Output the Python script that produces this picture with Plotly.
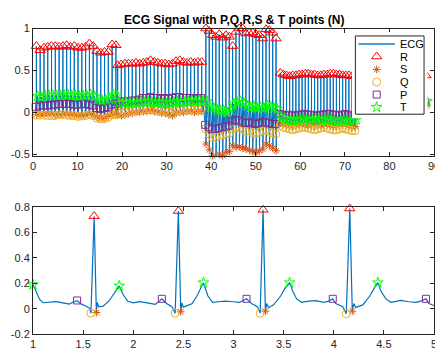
import plotly.graph_objects as go

# ---------------- data: top panel (per-beat fiducial points) ----------------
R_TIME = [0.76, 1.61, 2.46, 3.31, 4.16, 5.01, 5.86, 6.71, 7.56, 8.41, 9.26, 10.11, 10.96, 11.81,
          12.66, 13.51, 14.36, 15.21, 16.06, 16.91, 17.76, 18.61,
          19.0, 19.82, 20.64, 21.46, 22.28, 23.1, 23.92, 24.74, 25.56, 26.38, 27.2, 28.02, 28.84,
          29.66, 30.48, 31.3, 32.12, 32.94, 33.76, 34.58, 35.4, 36.22, 37.04, 37.86,
          38.8, 39.55, 40.3, 41.05, 41.8, 42.55, 43.3, 44.05, 44.8, 45.55, 46.3, 47.05, 47.8,
          48.55, 49.3, 50.05, 50.8, 51.55, 52.3, 53.05, 53.8, 54.55,
          55.5, 56.2, 56.9, 57.6, 58.3, 59.0, 59.7, 60.4, 61.1, 61.8, 62.5, 63.2, 63.9, 64.6,
          65.3, 66.0, 66.7, 67.4, 68.1, 68.8, 69.5, 70.2, 70.9, 71.6, 72.3,
          88.2]
R_TOP = [0.79, 0.74, 0.77, 0.78, 0.79, 0.79, 0.78, 0.79, 0.80, 0.78, 0.79, 0.77, 0.77, 0.78,
         0.82, 0.79, 0.73, 0.71, 0.72, 0.72, 0.81, 0.80,
         0.56, 0.57, 0.58, 0.58, 0.58, 0.59, 0.58, 0.59, 0.60, 0.62, 0.60, 0.59, 0.58, 0.58,
         0.57, 0.58, 0.61, 0.62, 0.60, 0.59, 0.60, 0.59, 0.60, 0.60,
         1.00, 0.97, 0.92, 0.90, 0.93, 0.89, 0.92, 0.90, 0.79, 0.96, 1.00, 1.00, 0.94, 0.95,
         0.95, 0.93, 0.92, 0.88, 0.99, 0.98, 0.95, 0.88,
         0.47, 0.45, 0.44, 0.43, 0.44, 0.44, 0.45, 0.45, 0.46, 0.46, 0.45, 0.45, 0.44, 0.44,
         0.45, 0.45, 0.46, 0.46, 0.45, 0.45, 0.44, 0.44, 0.44, 0.43, 0.43,
         0.44]
T_TOP = [0.19, 0.18, 0.205, 0.205, 0.205, 0.20, 0.20, 0.21, 0.21, 0.20, 0.20, 0.19, 0.20, 0.20,
         0.21, 0.19, 0.15, 0.14, 0.15, 0.16, 0.21, 0.20,
         0.11, 0.11, 0.12, 0.11, 0.12, 0.11, 0.12, 0.12, 0.13, 0.12, 0.11, 0.12, 0.11, 0.10,
         0.11, 0.12, 0.13, 0.12, 0.12, 0.13, 0.14, 0.13, 0.14, 0.13,
         0.13, 0.06, 0.05, 0.03, 0.02, 0.02, 0.00, 0.03, 0.10, 0.12, 0.13, 0.11, 0.08, 0.06,
         0.07, 0.05, 0.06, 0.05, 0.08, 0.07, 0.05, 0.04,
         -0.06, -0.08, -0.09, -0.10, -0.09, -0.10, -0.09, -0.08, -0.09, -0.10, -0.09, -0.08,
         -0.09, -0.10, -0.09, -0.08, -0.09, -0.10, -0.11, -0.10, -0.09, -0.10, -0.11, -0.10, -0.09,
         0.13]
P_TOP = [0.065, 0.08, 0.08, 0.08, 0.09, 0.09, 0.10, 0.10, 0.10, 0.10, 0.09, 0.09, 0.10, 0.10,
         0.09, 0.08, 0.05, 0.04, 0.05, 0.06, 0.09, 0.10,
         0.12, 0.13, 0.12, 0.13, 0.14, 0.14, 0.15, 0.17, 0.17, 0.18, 0.17, 0.17, 0.16, 0.17,
         0.16, 0.17, 0.18, 0.18, 0.17, 0.17, 0.17, 0.16, 0.17, 0.17,
         -0.15, -0.18, -0.20, -0.20, -0.19, -0.18, -0.17, -0.16, -0.10, -0.09, -0.10, -0.12,
         -0.13, -0.12, -0.13, -0.14, -0.13, -0.12, -0.12, -0.13, -0.14, -0.14,
         -0.02, -0.03, -0.04, -0.03, -0.04, -0.04, -0.03, -0.03, -0.02, -0.03, -0.03, -0.04,
         -0.04, -0.03, -0.03, -0.02, -0.02, -0.03, -0.03, -0.04, -0.03, -0.02, -0.03, -0.04, -0.04,
         0.12]
Q_TOP = [-0.035, -0.035, -0.035, -0.04, -0.04, -0.04, -0.03, -0.03, -0.035, -0.04, -0.04, -0.05,
         -0.045, -0.04, -0.03, -0.04, -0.07, -0.08, -0.08, -0.06, -0.03, -0.03,
         0.00, -0.01, 0.00, 0.01, 0.02, 0.03, 0.03, 0.04, 0.04, 0.05, 0.04, 0.03, 0.02, 0.02,
         0.00, -0.01, 0.02, 0.03, 0.03, 0.04, 0.04, 0.03, 0.04, 0.04,
         -0.20, -0.26, -0.30, -0.30, -0.28, -0.27, -0.26, -0.25, -0.20, -0.18, -0.19, -0.21,
         -0.23, -0.22, -0.24, -0.25, -0.24, -0.22, -0.21, -0.23, -0.25, -0.26,
         -0.16, -0.18, -0.19, -0.20, -0.21, -0.20, -0.19, -0.18, -0.18, -0.19, -0.20, -0.21,
         -0.20, -0.19, -0.18, -0.19, -0.20, -0.21, -0.21, -0.20, -0.19, -0.20, -0.21, -0.22, -0.22,
         0.08]
S_TOP = [-0.03, -0.025, -0.02, -0.02, -0.02, -0.03, -0.03, -0.02, -0.02, -0.03, -0.03, -0.04,
         -0.04, -0.03, -0.02, -0.03, -0.06, -0.07, -0.07, -0.05, -0.02, -0.02,
         -0.03, -0.04, -0.03, -0.02, -0.01, 0.00, 0.00, 0.01, 0.01, 0.02, 0.01, 0.00, -0.01, -0.01,
         -0.03, -0.04, -0.01, 0.00, 0.00, 0.01, 0.01, 0.00, 0.01, 0.01,
         -0.38, -0.45, -0.52, -0.53, -0.50, -0.52, -0.48, -0.47, -0.40, -0.42, -0.41, -0.43,
         -0.44, -0.45, -0.47, -0.48, -0.46, -0.44, -0.38, -0.40, -0.43, -0.46,
         -0.13, -0.14, -0.15, -0.16, -0.15, -0.15, -0.14, -0.14, -0.15, -0.16, -0.15, -0.14,
         -0.15, -0.16, -0.15, -0.14, -0.15, -0.16, -0.16, -0.15, -0.14, -0.15, -0.16, -0.17, -0.17,
         0.09]
# offsets (s) of the other fiducial points relative to the R peak
P_OFF, Q_OFF, S_OFF, T_OFF = -0.17, -0.035, 0.025, 0.25

# ---------------- data: bottom panel (zoomed ECG, 1-5 s) ----------------
BOT_T = [1.00, 1.03, 1.065, 1.10, 1.17, 1.23, 1.30, 1.36, 1.41, 1.44, 1.48, 1.53, 1.565, 1.578,
         1.61, 1.632, 1.64, 1.655, 1.70, 1.76, 1.81, 1.86, 1.90, 1.945, 2.00, 2.06, 2.14, 2.22,
         2.26, 2.285, 2.33, 2.39, 2.418, 2.45, 2.474, 2.485, 2.50, 2.585, 2.635, 2.70, 2.745,
         2.79, 2.85, 2.92, 3.00, 3.06, 3.10, 3.13, 3.18, 3.24, 3.266, 3.295, 3.318, 3.33, 3.35,
         3.40, 3.47, 3.52, 3.56, 3.59, 3.63, 3.68, 3.75, 3.82, 3.90, 3.95, 3.99, 4.02, 4.09,
         4.125, 4.16, 4.185, 4.20, 4.22, 4.29, 4.36, 4.41, 4.44, 4.47, 4.52, 4.57, 4.67, 4.75,
         4.82, 4.87, 4.92, 4.95, 4.98, 5.00]
BOT_V = [0.19, 0.14, 0.075, 0.047, 0.05, 0.056, 0.046, 0.036, 0.055, 0.063, 0.038, 0.02, 0.005,
         -0.035, 0.73, -0.03, 0.05, 0.015, 0.02, 0.063, 0.125, 0.18, 0.11, 0.058, 0.046, 0.056,
         0.046, 0.035, 0.06, 0.078, 0.043, 0.012, -0.035, 0.77, -0.025, 0.045, 0.012, 0.038, 0.10,
         0.205, 0.10, 0.05, 0.055, 0.06, 0.055, 0.05, 0.065, 0.078, 0.04, 0.015, -0.035, 0.78,
         -0.02, 0.04, 0.008, 0.03, 0.10, 0.17, 0.205, 0.14, 0.077, 0.05, 0.06, 0.063, 0.05, 0.06,
         0.078, 0.04, 0.015, -0.04, 0.79, -0.02, 0.04, 0.01, 0.03, 0.10, 0.17, 0.205, 0.14, 0.077,
         0.05, 0.065, 0.055, 0.05, 0.06, 0.078, 0.04, 0.03, 0.025]
R_BT = [1.61, 2.45, 3.295, 4.16]
R_BV = [0.73, 0.77, 0.78, 0.79]
S_BT = [1.632, 2.474, 3.318, 4.185]
S_BV = [-0.03, -0.025, -0.02, -0.02]
Q_BT = [1.578, 2.418, 3.266, 4.125]
Q_BV = [-0.035, -0.035, -0.035, -0.04]
P_BT = [1.44, 2.285, 3.13, 3.99, 4.92]
P_BV = [0.065, 0.078, 0.078, 0.078, 0.078]
T_BT = [1.00, 1.86, 2.70, 3.56, 4.44]
T_BV = [0.19, 0.18, 0.205, 0.205, 0.205]

TITLE = "ECG Signal with P,Q,R,S & T points (N)"
TOP_XTICKS = [0, 10, 20, 30, 40, 50, 60, 70, 80, 90]
TOP_YTICKS = [-0.5, 0, 0.5, 1]
BOT_XTICKS = [1, 1.5, 2, 2.5, 3, 3.5, 4, 4.5, 5]
BOT_YTICKS = [-0.2, 0, 0.2, 0.4, 0.6, 0.8]

n = len(R_TIME)
for arr in (R_TOP, T_TOP, P_TOP, Q_TOP, S_TOP):
    assert len(arr) == n, len(arr)
assert len(BOT_T) == len(BOT_V), (len(BOT_T), len(BOT_V))

# ---------------- styles ----------------
FONT = "Liberation Sans, Arial, Helvetica, sans-serif"
AX = "#262626"
C_ECG = "#0072BD"
STY = {
    "R": dict(symbol="triangle-up-open", color="#FF0000", size=9),
    "S": dict(symbol="asterisk-open", color="#D95319", size=6.5),
    "Q": dict(symbol="circle-open", color="#EDB120", size=8),
    "P": dict(symbol="square-open", color="#7E2F8E", size=7),
    "T": dict(symbol="star-open", color="#00FF00", size=8),
}

# figure is slightly wider than the 435 px window, so the right edge is cropped
W, H = 440, 356
ML, MR = 33, 4
PW = W - ML - MR


def px_x(p):
    return (p - ML) / PW


def px_y(p):
    return 1 - p / H


def mk(st):
    return dict(symbol=st["symbol"], color=st["color"], size=st["size"],
                line=dict(color=st["color"], width=1))


fig = go.Figure()

# top ECG line built from the fiducial points of each beat
xs, ys = [], []
for i in range(n):
    if i == n - 1:
        xs.append(None)
        ys.append(None)
    r = R_TIME[i]
    for off, v in ((P_OFF, P_TOP[i]), (Q_OFF, Q_TOP[i]), (0.0, R_TOP[i]),
                   (S_OFF, S_TOP[i]), (T_OFF, T_TOP[i])):
        xs.append(r + off)
        ys.append(v)
fig.add_trace(go.Scatter(x=xs, y=ys, mode="lines", line=dict(color=C_ECG, width=1),
                         xaxis="x", yaxis="y", showlegend=False))
top_pts = {
    "R": ([t for t in R_TIME], R_TOP),
    "S": ([t + S_OFF for t in R_TIME], S_TOP),
    "Q": ([t + Q_OFF for t in R_TIME], Q_TOP),
    "P": ([t + P_OFF for t in R_TIME], P_TOP),
    "T": ([t + T_OFF for t in R_TIME], T_TOP),
}
for k in ["R", "S", "Q", "P", "T"]:
    fig.add_trace(go.Scatter(x=top_pts[k][0], y=top_pts[k][1], mode="markers",
                             marker=mk(STY[k]), cliponaxis=False,
                             xaxis="x", yaxis="y", showlegend=False))

# bottom panel
fig.add_trace(go.Scatter(x=BOT_T, y=BOT_V, mode="lines", line=dict(color=C_ECG, width=1.2),
                         xaxis="x2", yaxis="y2", showlegend=False))
bot_pts = {"R": (R_BT, R_BV), "S": (S_BT, S_BV), "Q": (Q_BT, Q_BV),
           "P": (P_BT, P_BV), "T": (T_BT, T_BV)}
for k in ["R", "S", "Q", "P", "T"]:
    fig.add_trace(go.Scatter(x=bot_pts[k][0], y=bot_pts[k][1], mode="markers",
                             marker=mk(STY[k]), cliponaxis=False,
                             xaxis="x2", yaxis="y2", showlegend=False))

# ---------------- custom legend (own invisible axes) ----------------
fig.add_trace(go.Scatter(x=[0, 1, 1, 0, 0], y=[0, 0, 1, 1, 0], mode="lines", fill="toself",
                         fillcolor="white", line=dict(color=AX, width=1),
                         xaxis="x3", yaxis="y3", showlegend=False, hoverinfo="skip"))
LEG_NAMES = ["ECG", "R", "S", "Q", "P", "T"]
LEG_ROWS = [0.897, 0.737, 0.572, 0.411, 0.251, 0.090]
fig.add_trace(go.Scatter(x=[0.045, 0.575], y=[LEG_ROWS[0]] * 2, mode="lines",
                         line=dict(color="#4A9BD6", width=2),
                         xaxis="x3", yaxis="y3", showlegend=False, hoverinfo="skip"))
for name, yy in zip(LEG_NAMES[1:], LEG_ROWS[1:]):
    fig.add_trace(go.Scatter(x=[0.31], y=[yy], mode="markers", marker=mk(STY[name]),
                             cliponaxis=False, xaxis="x3", yaxis="y3",
                             showlegend=False, hoverinfo="skip"))
for name, yy in zip(LEG_NAMES, LEG_ROWS):
    fig.add_annotation(x=0.62, y=yy, xref="x3", yref="y3", text=name, showarrow=False,
                       xanchor="left", yanchor="middle",
                       font=dict(family=FONT, size=11, color="#000000"))

fig.add_annotation(x=px_x(234.5), y=px_y(14.5), xref="paper", yref="paper",
                   text="<b>%s</b>" % TITLE,
                   showarrow=False, xanchor="center", yanchor="middle",
                   font=dict(family=FONT, size=12, color="#000000"))

axis_common = dict(showline=True, linecolor=AX, linewidth=1, mirror="ticks",
                   ticks="inside", ticklen=4, tickcolor=AX, tickwidth=1,
                   showgrid=False, zeroline=False, ticklabeloverflow="allow",
                   tickfont=dict(family=FONT, size=11, color=AX))

fig.update_layout(
    width=W, height=H, margin=dict(l=ML, r=MR, t=0, b=0),
    paper_bgcolor="white", plot_bgcolor="white", showlegend=False,
    xaxis=dict(domain=[0, 1], anchor="y", range=[0, 90], tickvals=TOP_XTICKS, **axis_common),
    yaxis=dict(domain=[px_y(155.0), px_y(23.3)], anchor="x", range=[-0.52, 1.0],
               tickvals=TOP_YTICKS, ticktext=["-0.5", "0", "0.5", "1"], **axis_common),
    xaxis2=dict(domain=[0, 1], anchor="y2", range=[1, 5], tickvals=BOT_XTICKS,
                ticktext=["1", "1.5", "2", "2.5", "3", "3.5", "4", "4.5", "5"], **axis_common),
    yaxis2=dict(domain=[px_y(339.5), px_y(208.3)], anchor="x2", range=[-0.2, 0.8],
                tickvals=BOT_YTICKS, ticktext=["-0.2", "0", "0.2", "0.4", "0.6", "0.8"],
                **axis_common),
    xaxis3=dict(domain=[px_x(353.55), px_x(429.45)], anchor="y3",
                range=[-0.05, 1.05], visible=False, fixedrange=True),
    yaxis3=dict(domain=[px_y(116.05), px_y(26.95)], anchor="x3",
                range=[-0.05, 1.05], visible=False, fixedrange=True),
)

fig.write_html("out.html", config={"displayModeBar": False},
               post_script="document.body.style.margin='0px';document.body.style.overflow='hidden';"
                           "document.documentElement.style.overflow='hidden';")
